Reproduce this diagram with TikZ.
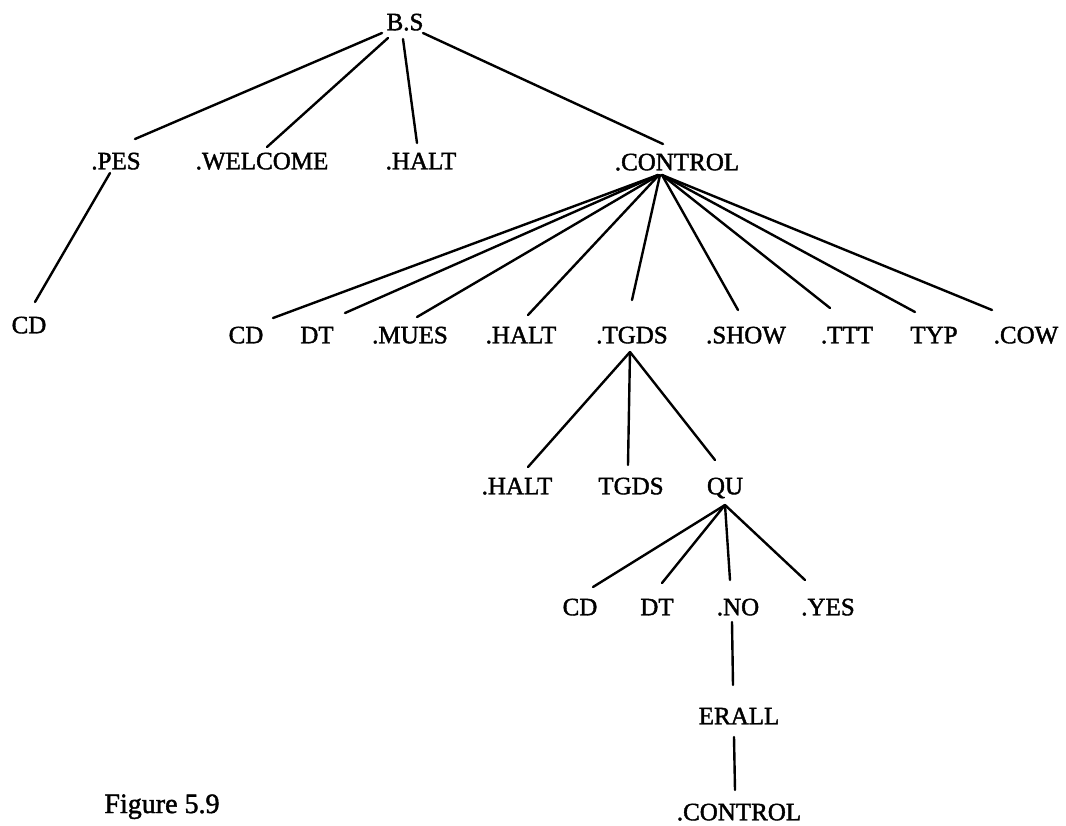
\documentclass[tikz,border=0pt]{standalone}
\usepackage{fontspec}
\setmainfont{Liberation Serif}[AutoFakeBold=1.6]
\begin{document}
\begin{tikzpicture}[x=1pt,y=-1pt,
  lbl/.style={inner sep=0pt,text height=16.5pt,text depth=0pt,anchor=center,font=\fontsize{25}{25}\selectfont\bfseries},
  edge/.style={line width=2.4pt,line cap=round}]
\useasboundingbox (0,0) rectangle (1066,825);
% level 0
\node[lbl] (bs) at (405,22) {B.S};
% level 1
\node[lbl] (pes) at (116,161) {.PES};
\node[lbl] (welcome) at (262,161) {.WELCOME};
\node[lbl] (halta) at (421,161) {.HALT};
\node[lbl] (control) at (677,162) {.CONTROL};
% under PES
\node[lbl] (cda) at (29,325) {CD};
% under CONTROL
\node[lbl] (cdb) at (246,335) {CD};
\node[lbl] (dtb) at (317,335) {DT};
\node[lbl] (mues) at (410,335) {.MUES};
\node[lbl] (haltb) at (521,335) {.HALT};
\node[lbl] (tgdsa) at (632,335) {.TGDS};
\node[lbl] (show) at (746,335) {.SHOW};
\node[lbl] (ttt) at (847,335) {.TTT};
\node[lbl] (typ) at (934,335) {TYP};
\node[lbl] (cow) at (1026,335) {.COW};
% under TGDS
\node[lbl] (haltc) at (517,486) {.HALT};
\node[lbl] (tgdsb) at (631,486) {TGDS};
\node[lbl] (qu) at (725,486) {QU};
% under QU
\node[lbl] (cdc) at (580,607) {CD};
\node[lbl] (dtc) at (657,607) {DT};
\node[lbl] (no) at (738,607) {.NO};
\node[lbl] (yes) at (828,607) {.YES};
% chain
\node[lbl] (erall) at (739,716) {ERALL};
\node[lbl] (controlb) at (739,812) {.CONTROL};
% caption
\node[inner sep=0pt,anchor=base,font=\fontsize{28}{28}\selectfont\bfseries] (fig) at (162,813) {Figure 5.9};

% edges from B.S
\draw[edge] ([shift={(-23,11)}]bs.center) -- ([shift={(19,-22)}]pes.center);
\draw[edge] ([shift={(-17,16)}]bs.center) -- ([shift={(5,-14)}]welcome.center);
\draw[edge] ([shift={(-2,17)}]bs.center) -- ([shift={(-4,-18)}]halta.center);
\draw[edge] ([shift={(18,11)}]bs.center) -- ([shift={(-14,-18)}]control.center);
% PES -> CD
\draw[edge] ([shift={(-6,12)}]pes.center) -- ([shift={(6,-23)}]cda.center);
% CONTROL -> children
\draw[edge] ([shift={(-19,13)}]control.center) -- ([shift={(27,-17)}]cdb.center);
\draw[edge] ([shift={(-19,13)}]control.center) -- ([shift={(28,-22)}]dtb.center);
\draw[edge] ([shift={(-18,13)}]control.center) -- ([shift={(7,-18)}]mues.center);
\draw[edge] ([shift={(-18,13)}]control.center) -- ([shift={(7,-20)}]haltb.center);
\draw[edge] ([shift={(-17,13)}]control.center) -- ([shift={(0,-35)}]tgdsa.center);
\draw[edge] ([shift={(-15,13)}]control.center) -- ([shift={(-8,-25)}]show.center);
\draw[edge] ([shift={(-15,13)}]control.center) -- ([shift={(-17,-27)}]ttt.center);
\draw[edge] ([shift={(-15,13)}]control.center) -- ([shift={(-19,-23)}]typ.center);
\draw[edge] ([shift={(-15,13)}]control.center) -- ([shift={(-34,-25)}]cow.center);
% TGDS -> children
\draw[edge] ([shift={(-2,17)}]tgdsa.center) -- ([shift={(11,-19)}]haltc.center);
\draw[edge] ([shift={(-2,17)}]tgdsa.center) -- ([shift={(-3,-21)}]tgdsb.center);
\draw[edge] ([shift={(-2,17)}]tgdsa.center) -- ([shift={(-10,-26)}]qu.center);
% QU -> children
\draw[edge] ([shift={(0,19)}]qu.center) -- ([shift={(13,-20)}]cdc.center);
\draw[edge] ([shift={(0,19)}]qu.center) -- ([shift={(5,-24)}]dtc.center);
\draw[edge] ([shift={(0,19)}]qu.center) -- ([shift={(-8,-27)}]no.center);
\draw[edge] ([shift={(0,19)}]qu.center) -- ([shift={(-23,-27)}]yes.center);
% chain
\draw[edge] ([shift={(-6,15)}]no.center) -- ([shift={(-6,-31)}]erall.center);
\draw[edge] ([shift={(-5,21)}]erall.center) -- ([shift={(-4,-22)}]controlb.center);
\end{tikzpicture}
\end{document}
